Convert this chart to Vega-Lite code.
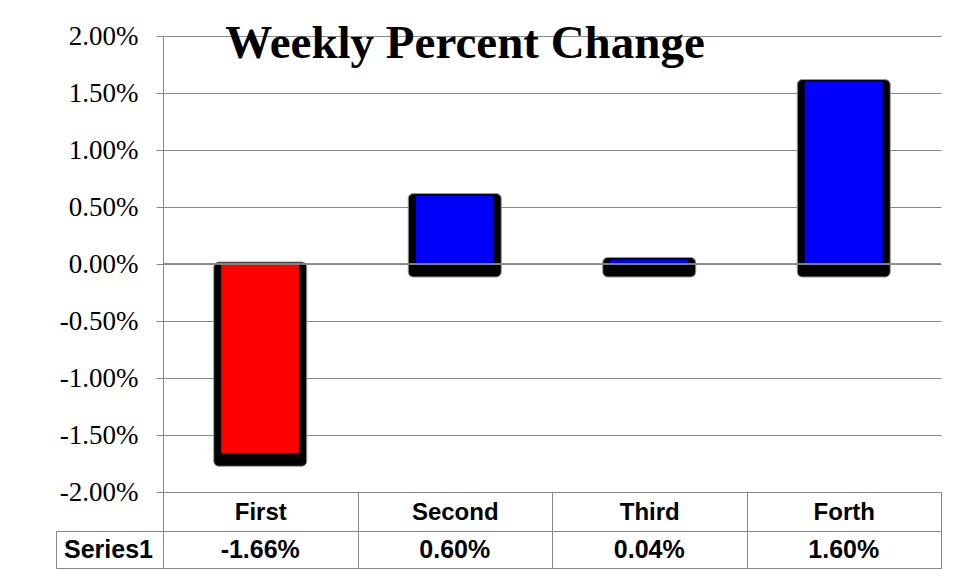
{
  "$schema": "https://vega.github.io/schema/vega-lite/v6.json",
  "autosize": {"type": "pad"},
  "padding": {"left": 55, "top": 20, "right": 17, "bottom": 11},
  "background": "white",
  "config": {
    "view": {"stroke": null},
    "locale": {"number": {"decimal": ".", "thousands": ",", "grouping": [3], "currency": ["$", ""], "minus": "-"}}
  },
  "data": {
    "values": [
      {"week": "First", "change": -0.0166, "series": "Series1"},
      {"week": "Second", "change": 0.006, "series": "Series1"},
      {"week": "Third", "change": 0.0004, "series": "Series1"},
      {"week": "Forth", "change": 0.016, "series": "Series1"}
    ]
  },
  "vconcat": [
    {
      "width": 778,
      "height": 456,
      "title": {
        "text": "Weekly Percent Change",
        "font": "Liberation Serif",
        "fontSize": 47,
        "fontWeight": "bold",
        "color": "black",
        "anchor": "middle",
        "baseline": "alphabetic",
        "dx": -87,
        "offset": 0,
        "dy": 83
      },
      "layer": [
        {
          "transform": [{"filter": "datum.change > 0"}],
          "mark": {"type": "bar", "color": "black", "size": 93, "yOffset": -2, "y2Offset": 13, "cornerRadius": 5, "stroke": "#999", "strokeWidth": 1},
          "encoding": {
            "x": {"field": "week", "type": "nominal", "sort": ["First", "Second", "Third", "Forth"], "scale": {"domain": ["First", "Second", "Third", "Forth"], "paddingInner": 0, "paddingOuter": 0},
              "axis": {"title": null, "labelAngle": 0, "labelFont": "Liberation Sans", "labelFontWeight": "bold", "labelFontSize": 24, "labelColor": "black", "labelPadding": -68, "tickBand": "extent", "tickSize": 76, "tickColor": "#888", "domainColor": "#888", "grid": false}},
            "y": {"field": "change", "type": "quantitative", "scale": {"domain": [-0.02, 0.02], "nice": false},
              "axis": {"title": null, "format": ".2%", "values": [-0.02, -0.015, -0.01, -0.005, 0, 0.005, 0.01, 0.015, 0.02], "labelFont": "Liberation Serif", "labelFontSize": 27, "labelColor": "black", "tickSize": 7, "tickColor": "#888", "domainColor": "#888", "grid": true, "gridColor": "#888", "gridOpacity": 1, "labelPadding": 18}},
            "y2": {"datum": 0}
          }
        },
        {
          "transform": [{"filter": "datum.change < 0"}],
          "mark": {"type": "bar", "color": "black", "size": 93, "yOffset": 13, "y2Offset": -2, "cornerRadius": 5, "stroke": "#999", "strokeWidth": 1},
          "encoding": {
            "x": {"field": "week", "type": "nominal", "sort": ["First", "Second", "Third", "Forth"]},
            "y": {"field": "change", "type": "quantitative"},
            "y2": {"datum": 0}
          }
        },
        {
          "mark": {"type": "bar", "size": 78},
          "encoding": {
            "x": {"field": "week", "type": "nominal", "sort": ["First", "Second", "Third", "Forth"]},
            "y": {"field": "change", "type": "quantitative"},
            "y2": {"datum": 0},
            "color": {"condition": {"test": "datum.change < 0", "value": "#FF0000"}, "value": "#0000FF"}
          }
        },
        {
          "mark": {"type": "rule", "color": "#888", "strokeWidth": 1},
          "encoding": {"y": {"datum": 0}}
        }
      ]
    },
    {
      "width": 778,
      "height": 37,
      "view": {"stroke": "#888"},
      "mark": {"type": "text", "font": "Liberation Sans", "fontWeight": "bold", "fontSize": 25, "color": "black"},
      "encoding": {
        "x": {"field": "week", "type": "nominal", "sort": ["First", "Second", "Third", "Forth"], "scale": {"domain": ["First", "Second", "Third", "Forth"], "paddingInner": 0, "paddingOuter": 0}, "axis": null},
        "y": {"field": "series", "type": "nominal", "scale": {"paddingInner": 0, "paddingOuter": 0},
          "axis": {"title": null, "offset": 107, "domainColor": "#888", "tickColor": "#888", "tickBand": "extent", "tickSize": -107, "labelFont": "Liberation Sans", "labelFontWeight": "bold", "labelFontSize": 25, "labelColor": "black", "labelAlign": "center", "labelPadding": 55}},
        "text": {"field": "change", "type": "quantitative", "format": ".2%"}
      }
    }
  ],
  "spacing": 39,
  "bounds": "flush",
  "resolve": {"scale": {"x": "independent", "y": "independent"}, "axis": {"x": "independent", "y": "independent"}}
}
